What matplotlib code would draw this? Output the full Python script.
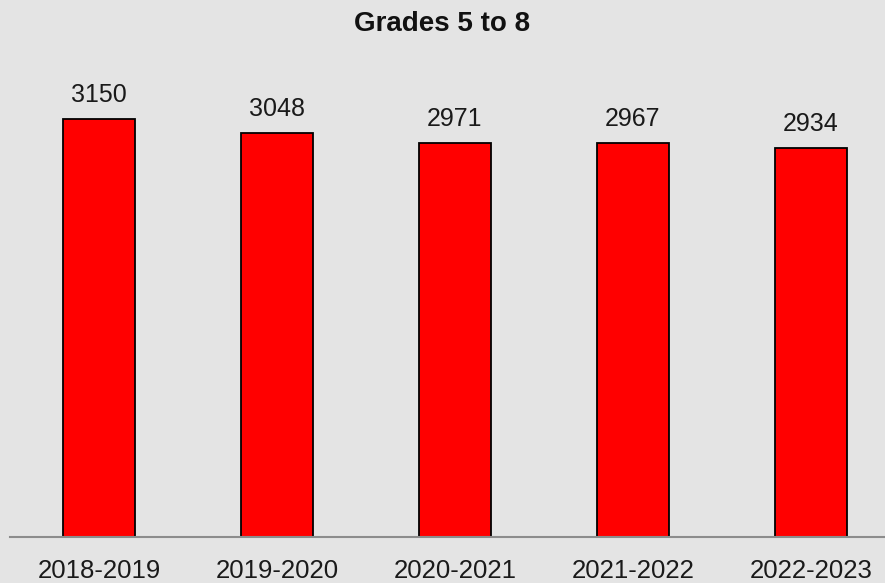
import matplotlib
matplotlib.use("Agg")
import matplotlib.pyplot as plt

categories = ["2018-2019", "2019-2020", "2020-2021", "2021-2022", "2022-2023"]
values = [3150, 3048, 2971, 2967, 2934]
title = "Grades 5 to 8"

plt.rcParams['font.family'] = ['Liberation Sans', 'DejaVu Sans']
bg = "#E4E4E4"
W, H = 885, 583
fig = plt.figure(figsize=(W / 100, H / 100), dpi=100, facecolor=bg)

# axes in pixel coords
left_px, right_px = 10, 900
bottom_px, top_px = 537, 60
ax = fig.add_axes([left_px / W, (H - bottom_px) / H,
                   (right_px - left_px) / W, (bottom_px - top_px) / H])
ax.set_facecolor(bg)
ax.patch.set_alpha(0)

x = list(range(len(categories)))
bars = ax.bar(x, values, width=0.405, color="#FF0000", edgecolor="#000000", linewidth=1.3)
ax.set_xlim(-0.5, len(categories) - 0.5)
scale = 0.1327  # px per unit
ax.set_ylim(0, (bottom_px - top_px) / scale)

for xi, v in zip(x, values):
    ax.annotate(f"{v}", (xi, v), xytext=(0, 8.5), textcoords="offset points",
                ha="center", va="bottom", fontsize=18, color="#1a1a1a")

ax.set_xticks(x)
ax.set_xticklabels(categories, fontsize=18.5, color="#1a1a1a")
ax.tick_params(axis="x", length=0, pad=16)
ax.set_yticks([])
for s in ["top", "right", "left"]:
    ax.spines[s].set_visible(False)
ax.spines["bottom"].set_color("#8c8c8c")
ax.spines["bottom"].set_linewidth(1.5)

fig.text(0.5, 1 - 24 / H, title, ha="center", va="center", fontsize=20,
         fontweight="bold", color="#111111")

fig.savefig("out.png", dpi=100, facecolor=bg)
